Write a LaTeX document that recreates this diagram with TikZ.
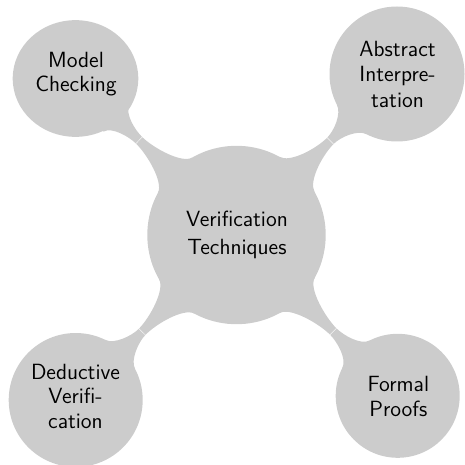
\documentclass[tikz,border=0pt]{standalone}
\usepackage{fontspec}
\usetikzlibrary{calc,shapes.geometric}
\tikzset{
  cfill/.style={fill=black!20, draw=none, inner sep=0pt, outer sep=0pt},
  ccircle/.style={cfill, circle},
  cellipse/.style={cfill, ellipse},
  lbl/.style={font=\sffamily\fontsize{11}{12}\selectfont, anchor=base, inner sep=0pt, text=black},
  barfill/.style={fill=black!20},
  seam/.style={draw=white, line width=0.5pt, opacity=0.8}
}
\newcommand\tx[1]{\scalebox{2}{#1}}
\newcommand\mmlink[5]{%
  \pgfmathsetmacro\mmM{#2+0.62*(#4-#2-#3)}%
  \pgfmathsetmacro\mmA{\mmM-16}%
  \pgfmathsetmacro\mmB{\mmM+10}%
  \path ($(c0)!#2pt!16:(#1)$) coordinate (#5pl)
        ($(c0)!#2pt!-16:(#1)$) coordinate (#5pr)
        ($(#1)!#3pt!-18:(c0)$) coordinate (#5ql)
        ($(#1)!#3pt!18:(c0)$) coordinate (#5qr)
        ($(c0)!\mmM pt!(#1)!4.5pt!90:(#1)$) coordinate (#5ml)
        ($(c0)!\mmM pt!(#1)!4.5pt!-90:(#1)$) coordinate (#5mr)
        ($(c0)!\mmA pt!(#1)!4.5pt!90:(#1)$) coordinate (#5al)
        ($(c0)!\mmA pt!(#1)!4.5pt!-90:(#1)$) coordinate (#5ar)
        ($(c0)!\mmB pt!(#1)!4.5pt!90:(#1)$) coordinate (#5bl)
        ($(c0)!\mmB pt!(#1)!4.5pt!-90:(#1)$) coordinate (#5br);
  \path ($(#5pl)!12pt!90:(c0)$) coordinate (#5pla)
        ($(#5pr)!12pt!-90:(c0)$) coordinate (#5pra)
        ($(#5ql)!10pt!-90:(#1)$) coordinate (#5qla)
        ($(#5qr)!10pt!90:(#1)$) coordinate (#5qra);
  \fill[barfill] (#5pl) .. controls (#5pla) and (#5al) .. (#5ml)
     .. controls (#5bl) and (#5qla) .. (#5ql) -- (#1) -- (#5qr)
     .. controls (#5qra) and (#5br) .. (#5mr)
     .. controls (#5ar) and (#5pra) .. (#5pr) -- (c0) -- cycle;
  \draw[seam] (#5ml) -- (#5mr);
}
\begin{document}
\begin{tikzpicture}[x=1pt,y=1pt]
\useasboundingbox (0,0) rectangle (464,-465);
% centres
\coordinate (c0) at (236.5,-235);
\coordinate (c1) at (75.5,-78.5);
\coordinate (c2) at (397,-74);
\coordinate (c3) at (75.7,-400);
\coordinate (c4) at (397.7,-395.8);
% connectors
\mmlink{c1}{89.2}{60}{224.5}{mc}
\mmlink{c2}{89.2}{67.5}{227.3}{ai}
\mmlink{c3}{89.2}{67}{230.4}{dv}
\mmlink{c4}{89.2}{62}{227.7}{fp}
% concepts
\node[ccircle, minimum size=178.4pt] (root) at (c0) {};
\node[cellipse, minimum width=125.6pt, minimum height=116.7pt] (mc) at (c1) {};
\node[ccircle, minimum size=135pt] (ai) at (c2) {};
\node[ccircle, minimum size=134pt] (dv) at (c3) {};
\node[ccircle, minimum size=124pt] (fp) at (c4) {};
% texts
\node[lbl] (t01) at (237,-226) {\tx{Verification}};
\node[lbl] (t02) at (237,-254.3) {\tx{Techniques}};
\node[lbl] (t11) at (76,-67.7) {\tx{Model}};
\node[lbl] (t12) at (76,-91.7) {\tx{Checking}};
\node[lbl] (t21) at (397.5,-56.7) {\tx{Abstract}};
\node[lbl] (t22) at (397.5,-82) {\tx{Interpre-}};
\node[lbl] (t23) at (397.5,-107.3) {\tx{tation}};
\node[lbl] (t31) at (75.5,-379.3) {\tx{Deductive}};
\node[lbl] (t32) at (75.5,-403.8) {\tx{Verifi-}};
\node[lbl] (t33) at (75.5,-428.3) {\tx{cation}};
\node[lbl] (t41) at (398.3,-391.7) {\tx{Formal}};
\node[lbl] (t42) at (398.3,-416.7) {\tx{Proofs}};
\end{tikzpicture}
\end{document}
